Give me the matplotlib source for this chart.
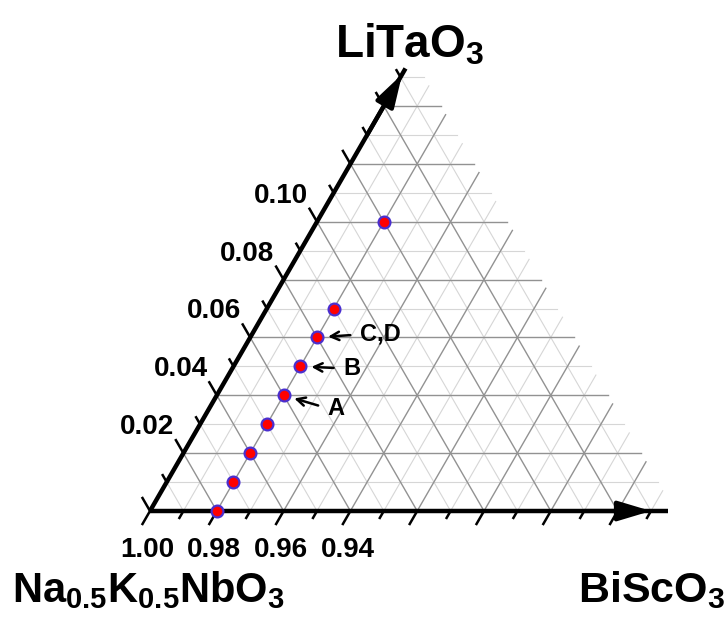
import numpy as np
import matplotlib
matplotlib.use('Agg')
import matplotlib.pyplot as plt

plt.rcParams['font.family'] = ['Liberation Sans', 'DejaVu Sans']
plt.rcParams['font.weight'] = 'bold'
plt.rcParams['mathtext.fontset'] = 'custom'
plt.rcParams['mathtext.rm'] = 'Liberation Sans:bold'
plt.rcParams['mathtext.bf'] = 'Liberation Sans:bold'
plt.rcParams['mathtext.it'] = 'Liberation Sans:bold'

# compositions: fractions of BiScO3 (bs) and LiTaO3 (lt), rest is NKN
bs = [0.02, 0.02, 0.02, 0.02, 0.02, 0.02, 0.02, 0.02, 0.02]
lt = [0.00, 0.01, 0.02, 0.03, 0.04, 0.05, 0.06, 0.07, 0.10]

# labelled samples
mark_names = ['A', 'B', 'C,D']
mark_bs = [0.02, 0.02, 0.02]
mark_lt = [0.04, 0.05, 0.06]

bottom_ticklabels = ['1.00', '0.98', '0.96', '0.94']
left_ticklabels = ['0.02', '0.04', '0.06', '0.08', '0.10']

W, H = 727, 623
S = 3340.0          # pixels per unit fraction
X0, Y0 = 150, 511   # pixel position of the NKN corner
LIM = 0.157         # grid extent (b + t)
SQ = np.sqrt(3) / 2


def tern(b, t):
    b = np.asarray(b, dtype=float)
    t = np.asarray(t, dtype=float)
    return b + t / 2, t * SQ


fig = plt.figure(figsize=(W / 100, H / 100), dpi=100)
ax = fig.add_axes([0, 0, 1, 1])
ax.set_xlim(-X0 / S, (W - X0) / S)
ax.set_ylim(-(H - Y0) / S, Y0 / S)
ax.axis('off')

# grid
for i in range(1, 16):
    c = i * 0.01
    major = i % 2 == 0
    col = '#929292' if major else '#d6d6d6'
    lw = 1.0 if major else 0.8
    z = 2 if major else 1
    # constant LiTaO3
    x, y = tern([0, LIM - c], [c, c])
    ax.plot(x, y, color=col, lw=lw, zorder=z)
    # constant BiScO3
    x, y = tern([c, c], [0, LIM - c])
    ax.plot(x, y, color=col, lw=lw, zorder=z)
    # constant NKN
    x, y = tern([0, c], [c, 0])
    ax.plot(x, y, color=col, lw=lw, zorder=z)

# axes lines
x, y = tern([0, 0.155], [0, 0])
ax.plot(x, y, color='k', lw=3.2, solid_capstyle='butt', zorder=5)
x, y = tern([0, 0], [0, 0.153])
ax.plot(x, y, color='k', lw=3.2, solid_capstyle='butt', zorder=5)
arrow = dict(arrowstyle='-|>,head_length=1.0,head_width=0.3', mutation_scale=20,
             color='k', lw=3, shrinkA=0, shrinkB=0)
ax.annotate('', xy=tern(0.150, 0), xytext=tern(0.13, 0), arrowprops=arrow, zorder=6)
ax.annotate('', xy=tern(0, 0.151), xytext=tern(0, 0.13), arrowprops=arrow, zorder=6)

# ticks
for i in range(16):
    v = i * 0.01
    L = (15 if i % 2 == 0 else 8) / S
    bx, by = tern(v, 0)
    ax.plot([bx, bx - 0.5 * L], [by, by - SQ * L], color='k', lw=1.8, zorder=5)
    lx, ly = tern(0, v)
    ax.plot([lx, lx - 0.5 * L], [ly, ly + SQ * L], color='k', lw=1.8, zorder=5)

for k, lab in enumerate(bottom_ticklabels):
    v = 1 - float(lab)
    ax.annotate(lab, xy=tern(v, 0), xytext=(-3, -39), textcoords='offset pixels',
                ha='center', va='center', fontsize=20, fontweight='bold')

for lab in left_ticklabels:
    v = float(lab)
    ax.annotate(lab, xy=tern(0, v), xytext=(-9, 26), textcoords='offset pixels',
                ha='right', va='center', fontsize=20, fontweight='bold')

# data points
x, y = tern(bs, lt)
ax.plot(x, y, 'o', ms=8.5, mfc='#ff0000', mec='#4a2fd0', mew=1.6, zorder=8)

offsets = [(44, -13), (43, -2), (43, 3)]
for name, b, t, off in zip(mark_names, mark_bs, mark_lt, offsets):
    ax.annotate(name, xy=tern(b, t), xytext=off, textcoords='offset pixels',
                ha='left', va='center', fontsize=17, fontweight='bold', zorder=9,
                arrowprops=dict(arrowstyle='->', color='k', lw=1.8, mutation_scale=15,
                                relpos=(0, 0.5), shrinkA=5, shrinkB=8))

# component names
fig.text(410 / W, 1 - 45 / H, r'LiTaO$_3$', ha='center', va='center',
         fontsize=33, fontweight='bold')
fig.text(12 / W, 1 - 590 / H, r'Na$_{0.5}$K$_{0.5}$NbO$_3$', ha='left', va='center',
         fontsize=30, fontweight='bold')
fig.text(725 / W, 1 - 590 / H, r'BiScO$_3$', ha='right', va='center',
         fontsize=31, fontweight='bold')

fig.savefig('out.png', dpi=100)
